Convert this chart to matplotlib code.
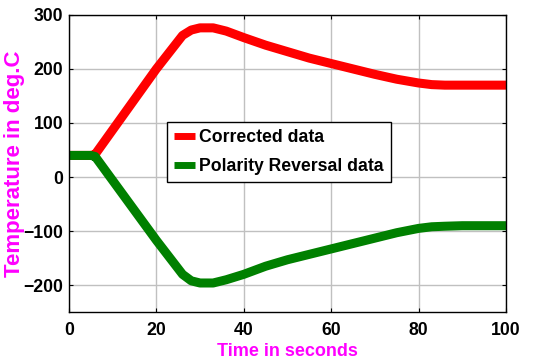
import matplotlib
matplotlib.use("Agg")
import matplotlib.pyplot as plt
import numpy as np

time = [0, 5, 6, 20, 26, 28, 30, 33, 36, 40, 45, 50, 55, 60, 65, 70, 75, 80, 83, 86, 90, 95, 100]
corrected = [40, 40, 42, 200, 262, 272, 276, 276, 270, 258, 244, 232, 220, 210, 200, 190, 181, 174, 171, 170, 170, 170, 170]
polarity = [40, 40, 38, -117, -180, -192, -196, -196, -190, -180, -165, -153, -143, -133, -123, -113, -103, -95, -92, -91, -90, -90, -90]

xticks = [0, 20, 40, 60, 80, 100]
yticks = [-200, -100, 0, 100, 200, 300]

plt.rcParams['font.family'] = ['Liberation Sans', 'DejaVu Sans']
fig = plt.figure(figsize=(5.47, 3.63), dpi=100)
ax = fig.add_axes([0.126, 0.140, 0.799, 0.819])
ax.plot(time, corrected, color='#ff0000', lw=6.5, solid_capstyle='butt', label='Corrected data')
ax.plot(time, polarity, color='#008000', lw=6.5, solid_capstyle='butt', label='Polarity Reversal data')
ax.set_xlim(0, 100)
ax.set_ylim(-250, 300)
ax.set_xticks(xticks)
ax.set_yticks(yticks)
ax.grid(True, color='#c0c0c0', lw=1)
ax.tick_params(direction='in', top=True, right=True, length=3, labelsize=12.7, pad=4)
ax.tick_params(axis='x', pad=7)
for lab in ax.get_xticklabels() + ax.get_yticklabels():
    lab.set_fontweight('bold')
for s in ax.spines.values():
    s.set_color('black')
    s.set_linewidth(1)
ax.set_xlabel('Time in seconds', color='#ff00ff', fontsize=13, fontweight='bold', labelpad=3)
ax.set_ylabel('Temperature in deg.C', color='#ff00ff', fontsize=16, fontweight='bold')
ax.yaxis.set_label_coords(-0.10, 0.5)
leg = ax.legend(loc='upper left', bbox_to_anchor=(0.224, 0.64),
                prop={'weight': 'bold', 'size': 12.7}, fancybox=False, framealpha=1,
                edgecolor='black', borderpad=0.4, handlelength=1.2, handletextpad=0.25,
                labelspacing=0.7, borderaxespad=0)
leg.get_frame().set_linewidth(1)
for h in leg.get_lines():
    h.set_linewidth(5)
fig.savefig('out.png', dpi=100)
